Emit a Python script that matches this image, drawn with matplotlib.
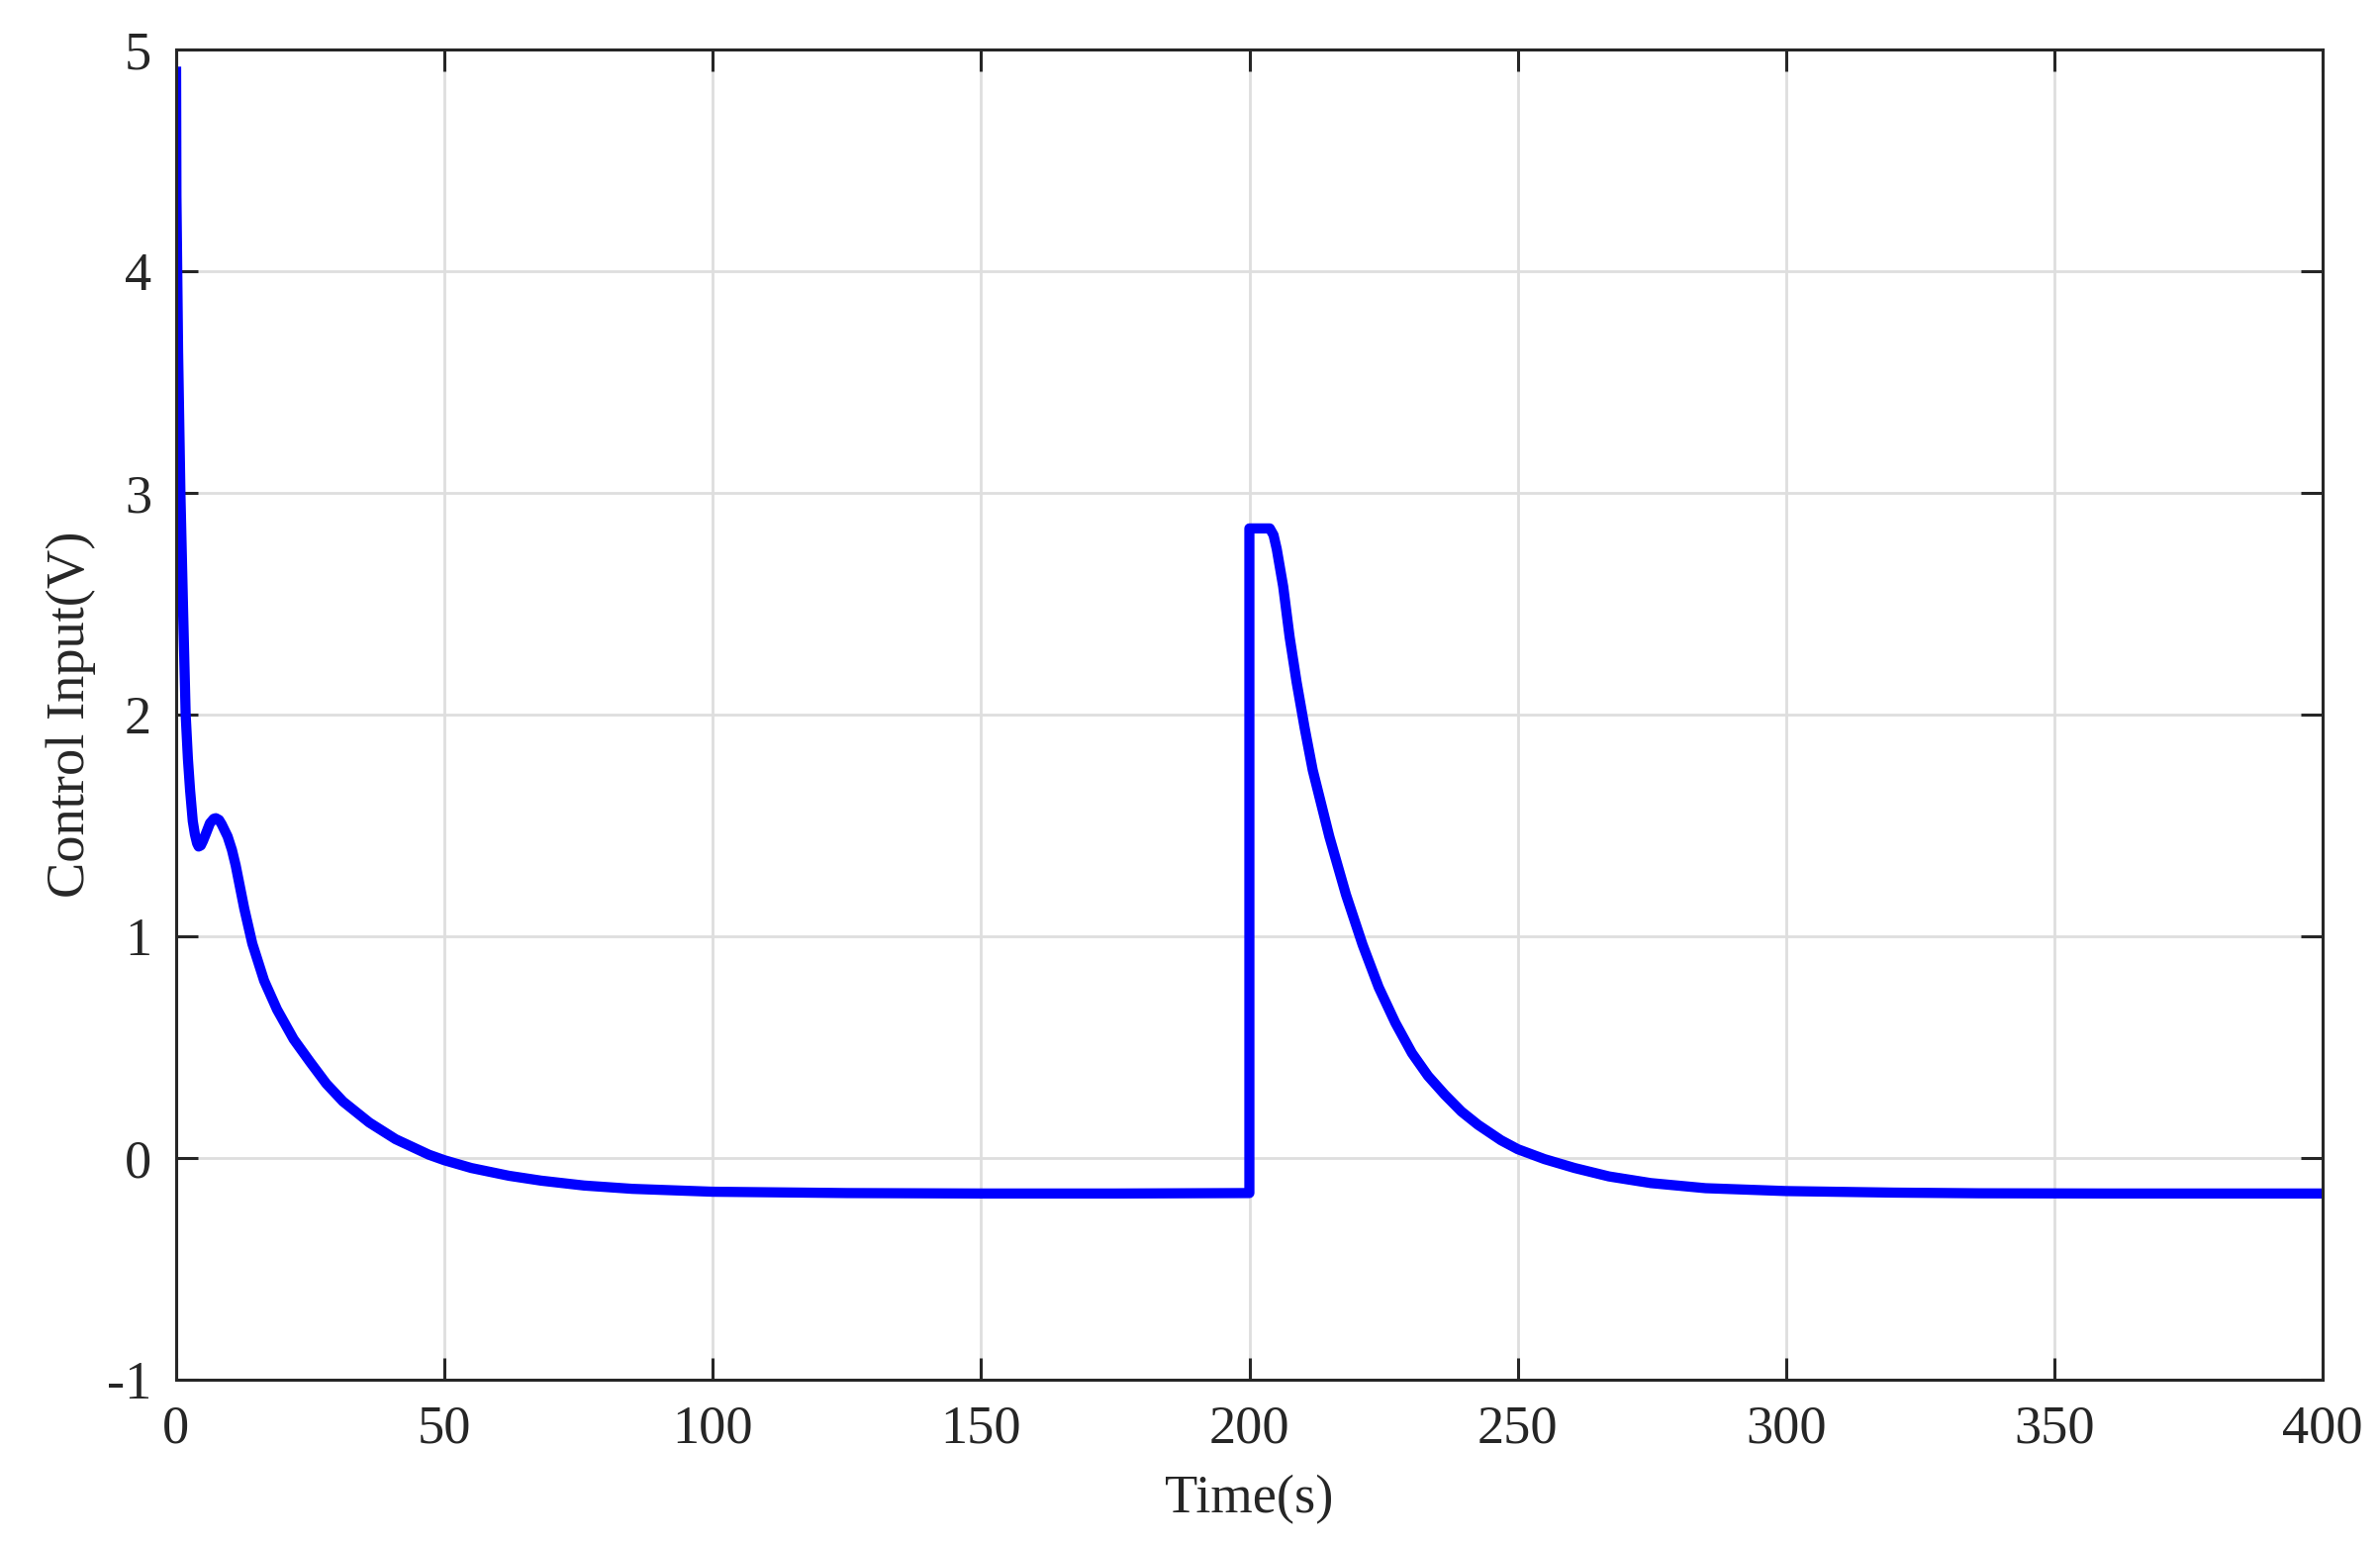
import matplotlib
matplotlib.use("Agg")
import matplotlib.pyplot as plt

plt.rcParams["font.family"] = ["Liberation Serif", "DejaVu Serif"]
plt.rcParams["axes.unicode_minus"] = False

# control input, first transient (0..200 s)
t_first = [0, 0.06, 0.37, 0.8, 1.29, 1.78, 2.2, 2.6, 3.1, 3.5, 3.9, 4.2, 4.6,
           5.0, 5.5, 6.3, 7.0, 7.4, 8.0, 8.5, 9.6, 10.4, 11.1, 12.7, 14.2,
           16.4, 18.8, 21.9, 25.0, 28.0, 31.1, 36.0, 40.9, 47.1, 50.0, 55.0,
           62.0, 68.0, 76.0, 85.0, 100.0, 125.0, 150.0, 175.0, 200.0]
u_first = [4.9, 4.34, 3.64, 3.0, 2.48, 2.0, 1.8, 1.66, 1.52, 1.46, 1.42,
           1.405, 1.41, 1.43, 1.46, 1.51, 1.53, 1.533, 1.525, 1.505, 1.45,
           1.39, 1.32, 1.125, 0.967, 0.8, 0.67, 0.536, 0.432, 0.335, 0.255,
           0.16, 0.085, 0.015, -0.01, -0.045, -0.08, -0.102, -0.124, -0.139,
           -0.152, -0.158, -0.16, -0.16, -0.158]

# second transient after the disturbance at 200 s
t_second = [200.0, 202.0, 203.8, 204.5, 205.1, 206.3, 207.5, 208.8, 210.3,
            211.8, 214.9, 218.0, 221.1, 224.1, 227.2, 230.3, 233.3, 236.4,
            239.5, 242.6, 246.9, 250.0, 255.0, 260.6, 267.0, 274.8, 285.0,
            300.0, 320.0, 336.0, 360.0, 400.0]
u_second = [2.84, 2.84, 2.84, 2.81, 2.747, 2.578, 2.35, 2.147, 1.94, 1.75,
            1.45, 1.188, 0.962, 0.77, 0.61, 0.473, 0.37, 0.286, 0.21, 0.15,
            0.08, 0.04, -0.005, -0.045, -0.083, -0.113, -0.136, -0.149,
            -0.156, -0.159, -0.16, -0.16]

t = t_first + t_second
u = u_first + u_second

x_ticks = [0, 50, 100, 150, 200, 250, 300, 350, 400]
y_ticks = [-1, 0, 1, 2, 3, 4, 5]

dark = "#262626"

fig = plt.figure(figsize=(12.025, 7.8), dpi=200)
ax = fig.add_axes([0.074, 0.1064, 0.9019, 0.8615])

ax.plot(t, u, color="#0000ff", linewidth=3.7, solid_joinstyle="round")

ax.set_xlim(0, 400)
ax.set_ylim(-1, 5)
ax.set_xticks(x_ticks)
ax.set_yticks(y_ticks)
ax.grid(True, color="#dedede", linewidth=1.0)
ax.set_axisbelow(True)

for s in ax.spines.values():
    s.set_color(dark)
    s.set_linewidth(1.1)
ax.tick_params(direction="in", length=8, width=1.1, color=dark,
               labelcolor=dark, labelsize=19.6, top=True, right=True)
ax.tick_params(axis="x", pad=9)
ax.tick_params(axis="y", pad=9)

ax.set_xlabel("Time(s)", fontsize=19.6, color=dark, labelpad=7.4)
ax.set_ylabel("Control Input(V)", fontsize=19.6, color=dark, labelpad=4)

fig.savefig("out.png", dpi=200, facecolor="white")
